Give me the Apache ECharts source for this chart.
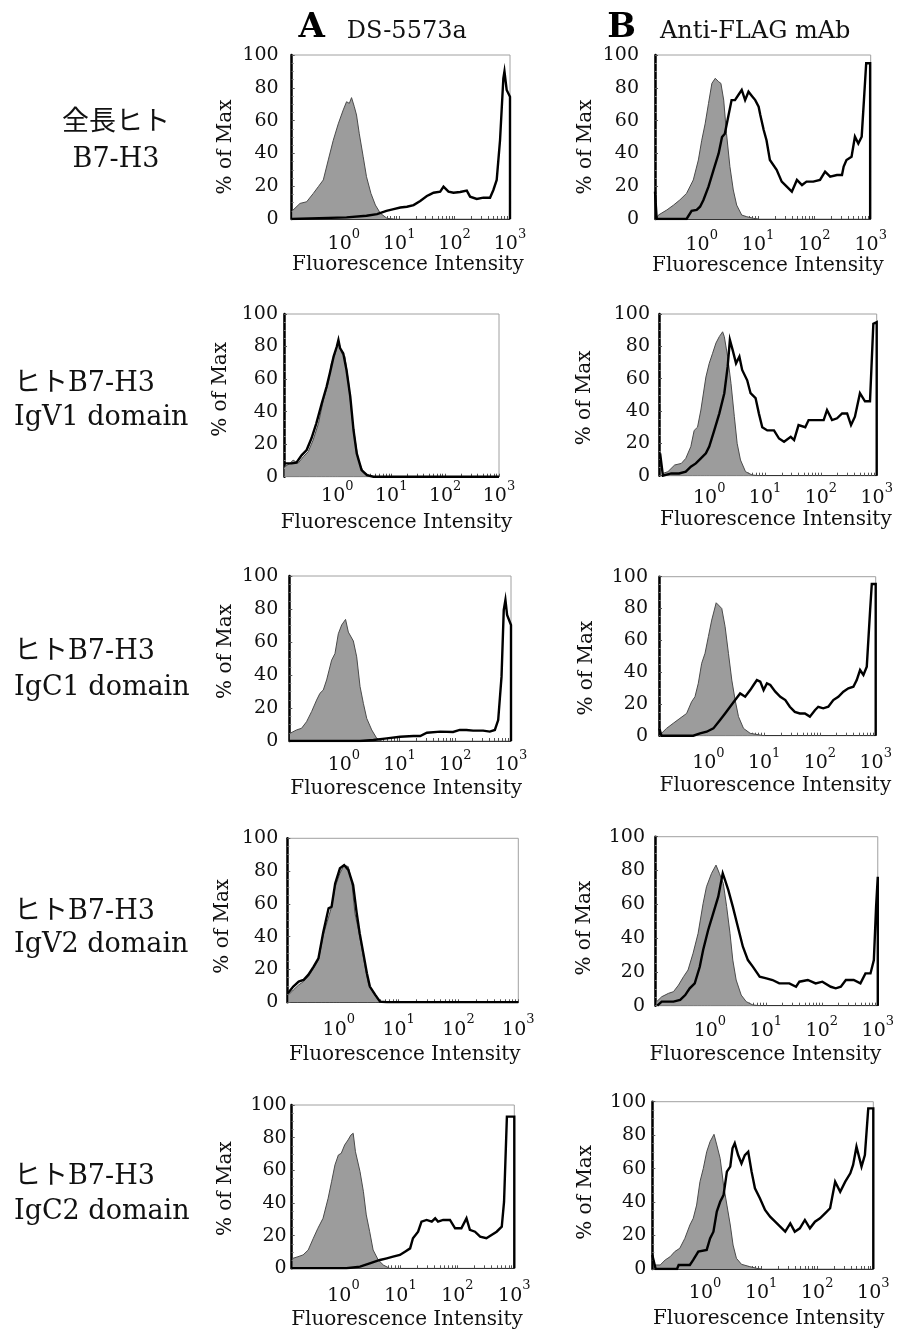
<!DOCTYPE html>
<html>
<head>
<meta charset="utf-8">
<script src="https://cdn.jsdelivr.net/npm/echarts@6/dist/echarts.min.js"></script>
<style>
  html, body { margin: 0; padding: 0; background: #fff; }
  #chart { width: 897px; height: 1333px; }
</style>
</head>
<body>
<div id="chart"></div>
<script>
// ---------- text ----------
const colTitles = [
  { letter: 'A', text: 'DS-5573a' },
  { letter: 'B', text: 'Anti-FLAG mAb' }
];
const rowLabels = [
  ['全長ヒト', 'B7-H3'],
  ['ヒトB7-H3', 'IgV1 domain'],
  ['ヒトB7-H3', 'IgC1 domain'],
  ['ヒトB7-H3', 'IgV2 domain'],
  ['ヒトB7-H3', 'IgC2 domain']
];
const xAxisName = 'Fluorescence Intensity';
const yAxisName = '% of Max';
// tick labels: x axis is log10(fluorescence intensity), labelled 10^n
const xTickDecades = [0, 1, 2, 3];
const yTicks = [0, 20, 40, 60, 80, 100];
const xMaxDecade = 3;

// ---------- data: [log10(intensity), % of Max] ----------
// gray filled = control, black line = stained sample
const A1_ctrl = [[-0.93,5],[-0.91,5],[-0.79,9.5],[-0.67,10.5],[-0.55,15.6],[-0.46,19.7],[-0.37,23.8],[-0.28,36],[-0.19,48],[-0.10,58],[-0.01,66.5],[0.05,71.5],[0.10,70.5],[0.14,74],[0.19,68.5],[0.23,63.4],[0.28,52],[0.35,38],[0.41,25.8],[0.49,15.6],[0.57,8.5],[0.66,3.5],[0.78,0.4],[0.9,0]];
const A1_stain = [[-0.94,0],[0.05,1],[0.41,2],[0.6,3],[0.77,5],[0.9,6],[1.02,7],[1.14,7.5],[1.26,8.5],[1.38,11],[1.5,14],[1.56,15],[1.62,16],[1.74,16.7],[1.8,19.7],[1.89,16.7],[1.98,16],[2.1,16.5],[2.22,17.3],[2.28,13.6],[2.4,12.2],[2.52,13],[2.64,13],[2.7,17.7],[2.76,23.8],[2.82,48],[2.88,85.8],[2.9,90],[2.94,78.7],[3.0,74.6],[3.0,0]];

const B1_ctrl = [[-0.8,0.5],[-0.77,2.4],[-0.62,5.5],[-0.5,8.5],[-0.39,11.6],[-0.27,15.6],[-0.15,23.8],[-0.06,36],[0,48],[0.06,58],[0.12,70.5],[0.18,82.7],[0.24,85.8],[0.3,83.7],[0.34,82.7],[0.39,72.5],[0.44,52],[0.5,32],[0.56,17.7],[0.62,8.5],[0.71,2.4],[0.8,1.4],[0.92,0.4],[1.0,0]];
const B1_stain = [[-0.83,16.7],[-0.8,0],[-0.27,0],[-0.18,5],[-0.09,5.5],[-0.03,7.5],[0.03,11.6],[0.12,19.7],[0.21,30],[0.3,40],[0.36,50],[0.41,52],[0.47,62.4],[0.53,72.5],[0.59,72.5],[0.65,75.6],[0.71,78.7],[0.77,72.5],[0.83,77.6],[0.89,75],[0.95,72.5],[1.01,68.5],[1.04,63.4],[1.1,54.3],[1.15,48],[1.21,36],[1.33,30],[1.42,22.8],[1.51,19.7],[1.6,16.7],[1.69,23.8],[1.78,20.7],[1.86,22.8],[1.98,22.8],[2.1,23.8],[2.19,28.9],[2.28,25.8],[2.4,26.8],[2.49,26.8],[2.52,32],[2.57,36],[2.66,38],[2.72,50.2],[2.78,46],[2.84,50.2],[2.88,72.5],[2.92,95],[2.99,95],[2.99,0]];

const A2_ctrl = [[-0.98,6],[-0.88,8.2],[-0.82,10.2],[-0.73,8.2],[-0.63,12.3],[-0.54,15.4],[-0.45,22.5],[-0.35,32.8],[-0.26,47],[-0.17,57.4],[-0.11,69.7],[-0.04,75.8],[0.02,84],[0.08,75.8],[0.14,73.8],[0.21,57.4],[0.27,36.9],[0.33,22.5],[0.39,10.2],[0.48,3],[0.61,0.4],[0.7,0]];
const A2_stain = [[-0.98,8.2],[-0.85,8.2],[-0.76,8.6],[-0.66,13.3],[-0.57,16.4],[-0.48,23.6],[-0.39,32.8],[-0.29,45],[-0.2,55.3],[-0.14,63.5],[-0.07,73.8],[-0.01,80],[0.02,84],[0.05,79],[0.11,75.8],[0.17,65.6],[0.24,49.2],[0.3,28.7],[0.36,14.3],[0.45,4.1],[0.55,1],[0.67,0],[3,0]];

const B2_ctrl = [[-0.83,1.4],[-0.74,2.5],[-0.62,6.6],[-0.5,7.6],[-0.42,10.7],[-0.33,18],[-0.27,28],[-0.21,30],[-0.15,40.6],[-0.06,61],[0,69.5],[0.06,75.7],[0.12,82],[0.18,86],[0.24,89],[0.27,86],[0.33,73.6],[0.39,57],[0.45,36.5],[0.5,20],[0.56,9.7],[0.65,2.5],[0.77,0.4],[0.9,0]];
const B2_stain = [[-0.88,13.8],[-0.83,0],[-0.68,1.4],[-0.54,1.4],[-0.42,2.5],[-0.33,5.6],[-0.24,7.6],[-0.15,10.7],[-0.06,13.8],[0,18],[0.09,28],[0.18,38.4],[0.27,51],[0.33,67.4],[0.37,84],[0.42,77.7],[0.48,69.5],[0.54,73.6],[0.59,65.4],[0.68,59],[0.74,51],[0.83,48],[0.89,38.4],[0.95,30],[1.04,28],[1.16,28],[1.25,23],[1.34,21],[1.46,24],[1.52,22],[1.6,31.3],[1.72,30],[1.78,34.4],[1.9,34.4],[2.05,34.4],[2.11,40.6],[2.2,34.4],[2.29,35.5],[2.38,38.5],[2.47,38.5],[2.54,31.3],[2.61,36.5],[2.7,51],[2.79,46],[2.88,46],[2.94,94],[3,95],[3,0]];

const A3_ctrl = [[-0.97,4.6],[-0.85,6.7],[-0.76,7.7],[-0.67,11.7],[-0.58,17.8],[-0.49,24.8],[-0.43,28.9],[-0.37,30.9],[-0.31,37],[-0.22,49],[-0.16,53],[-0.1,65],[-0.04,70.3],[0.03,73.7],[0.08,66],[0.17,60.6],[0.23,51],[0.29,33],[0.35,22.8],[0.41,13.7],[0.5,6.7],[0.59,1.6],[0.68,0]];
const A3_stain = [[-0.98,0],[0.29,0],[0.53,0.6],[0.77,1.6],[1.01,2.6],[1.25,3],[1.37,3],[1.49,5],[1.73,5.7],[1.96,5.5],[2.08,6.7],[2.2,6.7],[2.32,6.3],[2.5,6.3],[2.62,5.7],[2.71,6.7],[2.77,12.7],[2.83,39],[2.87,79.4],[2.9,85.5],[2.93,76.4],[3,70.3],[3,0]];

const B3_ctrl = [[-0.84,1.5],[-0.75,4.6],[-0.63,7.8],[-0.51,10.9],[-0.39,14],[-0.3,21.4],[-0.24,24.5],[-0.18,33],[-0.12,45.5],[-0.06,51.8],[0,62.3],[0.06,72.7],[0.14,83.6],[0.18,82.2],[0.24,80],[0.3,68.6],[0.36,51.8],[0.42,35],[0.48,22.4],[0.54,12],[0.63,4.6],[0.75,1.5],[0.93,0.4],[1.0,0]];
const B3_stain = [[-0.88,4.6],[-0.84,0],[-0.27,0],[-0.15,1.5],[-0.03,2.5],[0.09,4.6],[0.21,9.9],[0.3,14],[0.39,18.2],[0.48,22.4],[0.57,26.6],[0.66,24.5],[0.75,28.7],[0.81,31.9],[0.87,35],[0.93,34],[0.99,28.7],[1.05,32.9],[1.11,31.9],[1.2,27.7],[1.29,24.5],[1.38,22.4],[1.46,18.2],[1.55,15],[1.64,14],[1.73,14],[1.82,12],[1.91,16],[1.97,18.2],[2.06,17.2],[2.15,18.2],[2.24,22.4],[2.33,24.5],[2.42,27.7],[2.51,29.8],[2.6,30.8],[2.66,35],[2.72,41.3],[2.78,38.2],[2.84,43.4],[2.9,79],[2.93,95.4],[3,95.4],[3,0]];

const A4_ctrl = [[-0.84,4.5],[-0.76,7.5],[-0.67,10.6],[-0.59,12.6],[-0.51,15.7],[-0.42,20.7],[-0.34,25.8],[-0.26,41],[-0.17,52],[-0.12,58.3],[-0.06,70.5],[0.02,78.7],[0.09,83.7],[0.16,82.7],[0.22,72.5],[0.27,54.3],[0.33,44],[0.38,34],[0.44,21.7],[0.5,10.6],[0.58,5.5],[0.66,1.4],[0.75,0]];
const A4_stain = [[-0.85,5.5],[-0.76,9.6],[-0.67,12.6],[-0.59,13.6],[-0.51,16.7],[-0.42,21.7],[-0.34,26.8],[-0.26,42.5],[-0.17,57.3],[-0.12,58.3],[-0.06,72.5],[0.02,81.7],[0.09,83.7],[0.16,80.7],[0.24,71.5],[0.3,54.3],[0.35,42],[0.41,30],[0.47,17.7],[0.52,9.6],[0.61,4.5],[0.69,0.4],[0.8,0],[3,0]];

const B4_ctrl = [[-0.95,2.4],[-0.86,5.3],[-0.74,7.3],[-0.65,8.3],[-0.56,12.2],[-0.47,17.2],[-0.39,21.1],[-0.3,31],[-0.21,42.8],[-0.12,60.6],[-0.06,70.4],[0.03,78.3],[0.11,83.2],[0.17,78.3],[0.24,72.4],[0.3,58.6],[0.36,42.8],[0.41,27],[0.47,15.2],[0.56,6.3],[0.65,2.4],[0.77,0.4],[0.9,0]];
const B4_stain = [[-0.94,0],[-0.86,2.4],[-0.65,2.4],[-0.53,3.4],[-0.44,6.3],[-0.36,10.3],[-0.27,13.2],[-0.18,23],[-0.12,33],[-0.03,44.8],[0.06,54.6],[0.15,64.5],[0.23,78.3],[0.27,74.4],[0.33,68.4],[0.41,58.6],[0.5,46.7],[0.59,34.9],[0.68,27],[0.77,23],[0.89,17.2],[1.01,16.2],[1.12,15.2],[1.24,13.2],[1.42,13.2],[1.54,11.2],[1.6,14.2],[1.75,15.2],[1.89,13.2],[2.01,14.2],[2.16,11.2],[2.25,10.3],[2.34,11.2],[2.43,15.2],[2.57,15.2],[2.69,13.2],[2.78,19.1],[2.87,19.1],[2.93,27],[2.97,58.6],[3,76.3],[3,0]];

const A5_ctrl = [[-0.89,6.1],[-0.8,7.1],[-0.71,8.2],[-0.62,11.2],[-0.53,18.4],[-0.45,24.5],[-0.36,30.6],[-0.27,42.9],[-0.21,53],[-0.15,63.3],[-0.09,69.4],[-0.04,70.4],[0.02,75.5],[0.08,78.6],[0.13,81.6],[0.17,82.7],[0.21,71.4],[0.29,59.2],[0.35,46.9],[0.4,32.7],[0.46,22.4],[0.52,11.2],[0.61,5.1],[0.7,2],[0.81,0]];
const A5_stain = [[-0.91,0],[0.05,0],[0.29,1],[0.46,3],[0.64,5.1],[0.76,6.1],[0.87,7.1],[0.99,8.2],[1.08,10.2],[1.17,12.2],[1.22,18.4],[1.31,22.4],[1.37,28.6],[1.46,29.6],[1.55,28.6],[1.61,30.6],[1.66,28.6],[1.75,29.6],[1.87,29.6],[1.96,24.5],[2.07,24.5],[2.16,30.6],[2.22,23.5],[2.31,22.4],[2.4,19.4],[2.51,18.4],[2.6,20.4],[2.69,22.4],[2.78,25.5],[2.82,40.8],[2.87,92.9],[3,92.9],[3,0]];

const B5_ctrl = [[-0.91,2.4],[-0.8,2.4],[-0.71,5.4],[-0.62,7.4],[-0.54,10.4],[-0.45,12.4],[-0.36,18.3],[-0.27,26.3],[-0.21,30.3],[-0.15,38.2],[-0.09,52.2],[-0.03,60.2],[0.03,70.1],[0.09,76.1],[0.16,80.5],[0.21,74.1],[0.27,66.1],[0.33,50.2],[0.39,38.2],[0.45,26.3],[0.5,14.3],[0.56,6.4],[0.65,2.8],[0.8,1.4],[0.92,0.4],[1.0,0]];
const B5_stain = [[-0.94,8.4],[-0.88,0],[-0.5,0],[-0.47,2.4],[-0.27,2.4],[-0.21,5.4],[-0.12,10.4],[0.03,11.4],[0.09,18.3],[0.15,22.3],[0.21,34.3],[0.27,40.2],[0.33,44.2],[0.39,58.2],[0.45,61.2],[0.49,72.1],[0.53,75.1],[0.59,68.1],[0.65,63.1],[0.71,68.1],[0.77,70.1],[0.83,58.2],[0.89,48.2],[0.98,42.2],[1.07,35.3],[1.16,31.3],[1.25,28.3],[1.34,25.3],[1.43,22.3],[1.52,27.3],[1.6,22.3],[1.69,24.3],[1.78,29.3],[1.87,24.3],[1.96,28.3],[2.05,30.3],[2.14,33.3],[2.23,36.3],[2.32,52.2],[2.41,46.2],[2.5,52.2],[2.59,57.2],[2.64,62.2],[2.7,73.1],[2.79,61.2],[2.85,68.1],[2.91,96],[3,96],[3,0]];

// lowest decade shown on each panel's x axis
const xMinA = [-0.94, -0.99, -0.98, -0.86, -0.91];
const xMinB = [-0.83, -0.90, -0.885, -0.98, -0.94];

// ---------- layout ----------
const layout = [
  // column A
  { ctrl: A1_ctrl, stain: A1_stain, xMin: xMinA[0], left: 291.7, top: 55,    width: 218.3, height: 164,   yLblM: 13, yNameGap: 56, yNameShift: 10, xLblM: 9,  xNameGap: 36, xNameShift: 7 },
  { ctrl: A2_ctrl, stain: A2_stain, xMin: xMinA[1], left: 284,   top: 314,   width: 215,   height: 162.7, yLblM: 6,  yNameGap: 53, yNameShift: -6, xLblM: 3,  xNameGap: 36, xNameShift: 5 },
  { ctrl: A3_ctrl, stain: A3_stain, xMin: xMinA[2], left: 289.3, top: 576,   width: 221.7, height: 165,   yLblM: 11, yNameGap: 54, yNameShift: -7, xLblM: 8,  xNameGap: 38, xNameShift: 6 },
  { ctrl: A4_ctrl, stain: A4_stain, xMin: xMinA[3], left: 287.3, top: 838.3, width: 231,   height: 164,   yLblM: 9,  yNameGap: 55, yNameShift: 6,  xLblM: 11, xNameGap: 42, xNameShift: 2 },
  { ctrl: A5_ctrl, stain: A5_stain, xMin: xMinA[4], left: 291.7, top: 1105,  width: 222.6, height: 163.3, yLblM: 5,  yNameGap: 56, yNameShift: 2,  xLblM: 11, xNameGap: 41, xNameShift: 4 },
  // column B
  { ctrl: B1_ctrl, stain: B1_stain, xMin: xMinB[0], left: 655,   top: 55,    width: 215.7, height: 164,   yLblM: 16, yNameGap: 59, yNameShift: 10, xLblM: 10, xNameGap: 36, xNameShift: 5 },
  { ctrl: B2_ctrl, stain: B2_stain, xMin: xMinB[1], left: 659,   top: 314,   width: 217.7, height: 161.7, yLblM: 9,  yNameGap: 64, yNameShift: 3,  xLblM: 6,  xNameGap: 34, xNameShift: 8 },
  { ctrl: B3_ctrl, stain: B3_stain, xMin: xMinB[2], left: 659,   top: 576.7, width: 216.7, height: 159,   yLblM: 11, yNameGap: 62, yNameShift: 12, xLblM: 11, xNameGap: 40, xNameShift: 8 },
  { ctrl: B4_ctrl, stain: B4_stain, xMin: xMinB[3], left: 655,   top: 836.7, width: 224,   height: 169,   yLblM: 10, yNameGap: 60, yNameShift: 7,  xLblM: 9,  xNameGap: 39, xNameShift: -1 },
  { ctrl: B5_ctrl, stain: B5_stain, xMin: xMinB[4], left: 652.3, top: 1101.7,width: 221,   height: 167.3, yLblM: 6,  yNameGap: 57, yNameShift: 7,  xLblM: 8,  xNameGap: 40, xNameShift: 6 }
];

const SERIF = '"DejaVu Serif", "Noto Sans CJK JP", serif';
const TXT = '#111';

// minor log ticks (2..9 x 10^n) as decade positions
function minorTicks(xMin) {
  const out = [];
  for (let n = -1; n <= 2; n++) {
    for (let k = 1; k <= 9; k++) {
      const v = n + Math.log10(k);
      if (v >= xMin && v <= xMaxDecade) out.push(v);
    }
  }
  out.push(xMaxDecade);
  return out;
}

const grid = [], xAxis = [], yAxis = [], series = [];
layout.forEach((p, i) => {
  grid.push({ left: p.left, top: p.top, width: p.width, height: p.height,
    show: true, borderColor: '#a0a0a0', borderWidth: 1, containLabel: false });
  xAxis.push({
    type: 'value', gridIndex: i, min: p.xMin, max: xMaxDecade,
    axisLine: { show: true, onZero: false, lineStyle: { color: '#333', width: 1 } },
    axisTick: { show: true, inside: true, length: 3, customValues: minorTicks(p.xMin), lineStyle: { color: '#555', width: 1 } },
    splitLine: { show: false },
    axisLabel: {
      customValues: xTickDecades, margin: p.xLblM, color: TXT,
      formatter: v => '{b|10}{s|' + Math.round(v) + '}',
      rich: {
        b: { fontFamily: SERIF, fontSize: 19, color: TXT, lineHeight: 26, verticalAlign: 'bottom' },
        s: { fontFamily: SERIF, fontSize: 13, color: TXT, lineHeight: 13, verticalAlign: 'top' }
      }
    },
    name: xAxisName, nameLocation: 'middle', nameGap: p.xNameGap,
    nameTextStyle: { fontFamily: SERIF, fontSize: 20, color: TXT,
      padding: p.xNameShift >= 0 ? [0, 0, 0, 2 * p.xNameShift] : [0, -2 * p.xNameShift, 0, 0] }
  });
  yAxis.push({
    type: 'value', gridIndex: i, min: yTicks[0], max: yTicks[yTicks.length - 1], interval: 20,
    axisLine: { show: true, onZero: false, lineStyle: { color: '#000', width: 2.5 } },
    axisTick: { show: true, inside: true, length: 3, lineStyle: { color: '#555' } },
    minorTick: { show: true, splitNumber: 4, length: 2, lineStyle: { color: '#777' } },
    splitLine: { show: false },
    axisLabel: { margin: p.yLblM, fontFamily: SERIF, fontSize: 19, color: TXT },
    name: yAxisName, nameLocation: 'middle', nameGap: p.yNameGap,
    nameTextStyle: { fontFamily: SERIF, fontSize: 20, color: TXT,
      padding: p.yNameShift >= 0 ? [0, 2 * p.yNameShift, 0, 0] : [0, 0, 0, -2 * p.yNameShift] }
  });
  series.push({
    type: 'line', xAxisIndex: i, yAxisIndex: i, data: p.ctrl,
    symbol: 'none', z: 2, silent: true,
    lineStyle: { color: '#4a4a4a', width: 1 },
    areaStyle: { color: '#9c9c9c', opacity: 1 }
  });
  series.push({
    type: 'line', xAxisIndex: i, yAxisIndex: i, data: p.stain,
    symbol: 'none', z: 3, silent: true,
    lineStyle: { color: '#000', width: 2.4, join: 'miter' }
  });
});

// titles and row labels
const graphic = [];
const colX = [{ letter: 311.7, text: 346.7 }, { letter: 621.7, text: 660 }];
colTitles.forEach((c, j) => {
  graphic.push({ type: 'text', x: colX[j].letter, y: 28, style: { text: c.letter, font: 'bold 34px ' + SERIF, fill: '#000', textAlign: 'center', textVerticalAlign: 'middle' } });
  graphic.push({ type: 'text', x: colX[j].text, y: 32, style: { text: c.text, font: '24px ' + SERIF, fill: TXT, textAlign: 'left', textVerticalAlign: 'middle' } });
});
const rowY = [[123, 160], [384, 418], [652, 688], [912, 945], [1177, 1212]];
rowLabels.forEach((r, k) => {
  const centered = k === 0;
  r.forEach((t, m) => {
    graphic.push({ type: 'text', x: centered ? 116 : 14, y: rowY[k][m],
      style: { text: t, font: '27px ' + SERIF, fill: TXT, textAlign: centered ? 'center' : 'left', textVerticalAlign: 'middle' } });
  });
});

const chart = echarts.init(document.getElementById('chart'), null, { renderer: 'canvas' });
chart.setOption({
  animation: false,
  backgroundColor: '#fff',
  grid, xAxis, yAxis, series, graphic
});
</script>
</body>
</html>
